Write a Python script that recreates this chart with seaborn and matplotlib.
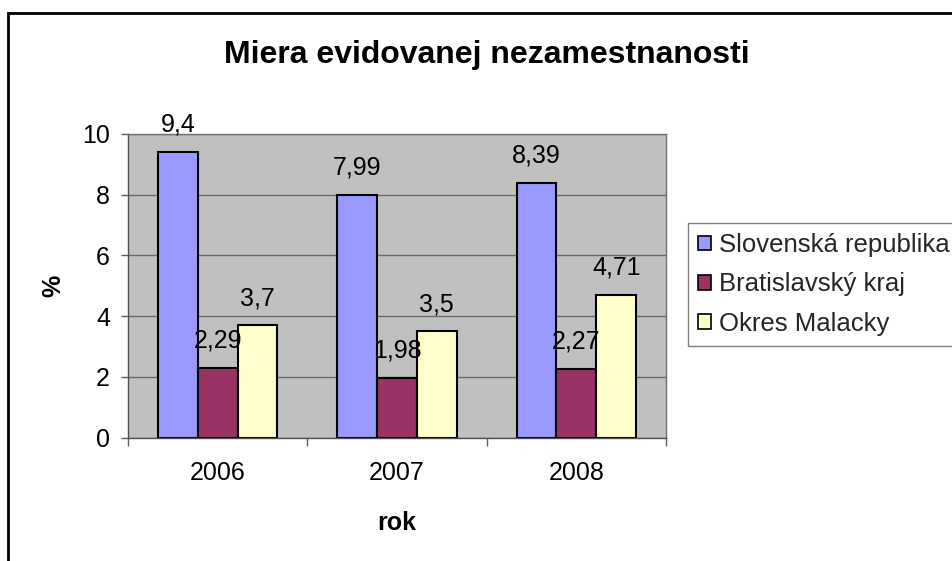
import matplotlib
matplotlib.use("Agg")
import matplotlib.pyplot as plt
from matplotlib.patches import Patch, Rectangle
import seaborn as sns
import pandas as pd

# ---- data ----
years = ["2006", "2007", "2008"]
series = ["Slovenská republika", "Bratislavský kraj", "Okres Malacky"]
sr_values = [9.4, 7.99, 8.39]
ba_values = [2.29, 1.98, 2.27]
ma_values = [3.7, 3.5, 4.71]
colors = ["#9999FF", "#993366", "#FFFFCC"]
title = "Miera evidovanej nezamestnanosti"
xlabel = "rok"
ylabel = "%"
yticks = [0, 2, 4, 6, 8, 10]

values = [sr_values, ba_values, ma_values]
df = pd.DataFrame({
    "rok": [y for s in series for y in years],
    "series": [s for s in series for _ in years],
    "value": [v for vals in values for v in vals],
})

sns.set_theme(style="white")
plt.rcParams["font.family"] = ["Liberation Sans", "DejaVu Sans"]

FS = 18
fig = plt.figure(figsize=(9.52, 5.61), dpi=100)
W, H = 952, 561
ax = fig.add_axes([128 / W, 1 - 437.7 / H, 538 / W, (437.7 - 134) / H])
ax.set_facecolor("#C0C0C0")

sns.barplot(data=df, x="rok", y="value", hue="series", order=years,
            hue_order=series, palette=colors, saturation=1, width=0.667,
            edgecolor="black", linewidth=1.5, legend=False, ax=ax, zorder=3)

# data labels
for cont, vals in zip(ax.containers, values):
    labs = [f"{v:g}".replace(".", ",") for v in vals]
    ax.bar_label(cont, labels=labs, padding=11, fontsize=FS, color="black",
                 zorder=5)

ax.set_ylim(0, 10)
ax.set_xlim(-0.5, 2.5)
ax.set_yticks(yticks)
ax.set_yticklabels([str(t) for t in yticks])
ax.yaxis.grid(True, color="#6a6a6a", linewidth=1, zorder=0)
ax.set_axisbelow(True)

ax.set_xticks([-0.5, 0.5, 1.5, 2.5])
ax.set_xticklabels([])
ax.set_xticks([0, 1, 2], minor=True)
ax.set_xticklabels(years, minor=True)
ax.tick_params(axis="x", which="major", direction="out", length=6,
               width=1, color="#606060", bottom=True)
ax.tick_params(axis="x", which="minor", length=0, pad=17, labelsize=FS,
               labelcolor="black")
ax.tick_params(axis="y", which="major", direction="out", length=5,
               width=1, color="#606060", pad=8, labelsize=FS,
               labelcolor="black", left=True)

for side, sp in ax.spines.items():
    sp.set_visible(True)
    sp.set_color("#707070")
    sp.set_linewidth(1)
    sp.set_zorder(4)
ax.spines["left"].set_color("#505050")
ax.spines["bottom"].set_color("#505050")

ax.set_xlabel(xlabel, fontsize=FS, fontweight="bold", color="black")
ax.xaxis.set_label_coords(0.5, (437.7 - 523) / 303.7)
ax.xaxis.label.set_verticalalignment("center")
ax.set_ylabel(ylabel, fontsize=FS, fontweight="bold", color="black")
ax.yaxis.set_label_coords((53 - 128) / 538, 0.5)
ax.yaxis.label.set_verticalalignment("center")

fig.text(487 / W, 1 - 63.5 / H, title, ha="center", va="baseline",
         fontsize=23, fontweight="bold", color="black")

handles = [Patch(facecolor=c, edgecolor="black", linewidth=1.2) for c in colors]
leg = fig.legend(handles, series, loc="upper left",
                 bbox_to_anchor=(687.7 / W, 1 - 222.7 / H), borderaxespad=0,
                 fontsize=18.5, frameon=True, fancybox=False, shadow=False,
                 framealpha=1, facecolor="white", edgecolor="#808080",
                 handlelength=0.5, handleheight=0.5, handletextpad=0.32,
                 borderpad=0.4, labelspacing=0.6)
leg.get_frame().set_linewidth(1)

fig.add_artist(Rectangle((8 / W, -0.1), 1.2, 1 - 13 / H + 0.1,
                         transform=fig.transFigure, fill=False,
                         edgecolor="black", linewidth=2))

fig.savefig("out.png", dpi=100, facecolor="white")
